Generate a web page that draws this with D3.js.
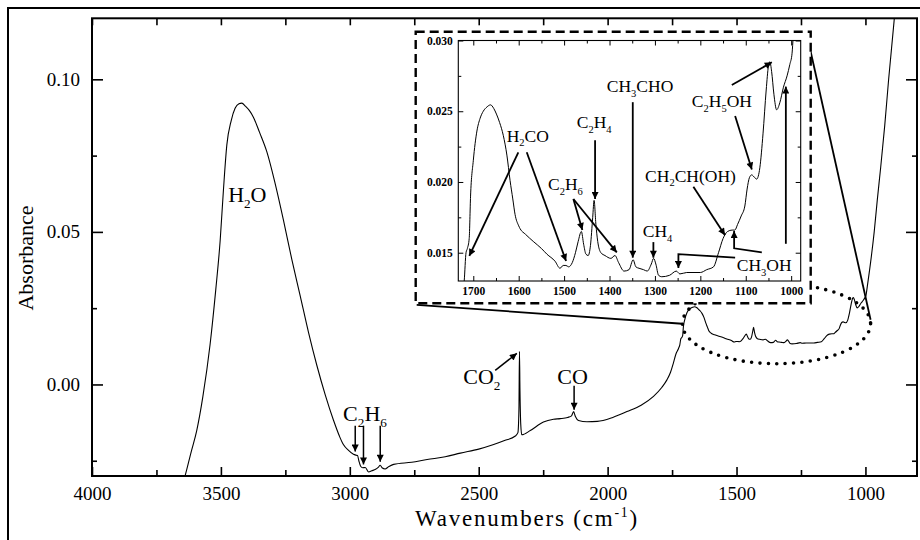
<!DOCTYPE html>
<html lang="en">
<head>
    <meta charset="UTF-8">
    <title>IR spectrum - absorbance vs wavenumber</title>
    <script src="https://cdn.jsdelivr.net/npm/d3@7"></script>
    <style>
        html, body {
            margin: 0;
            background: #fff;
        }
        svg {
            display: block;
            font-family: "Liberation Serif", "Times New Roman", serif;
        }
        .tick line { stroke: #000; }
    </style>
</head>
<body>
<div id="vis"></div>
<script>
    // ---- spectrum (wavenumber in cm-1, absorbance) ----
    var spectrumWn = [3660, 3639, 3615, 3594, 3570, 3542, 3520, 3503, 3490, 3477, 3460, 3445, 3430, 3419, 3405, 3390,
        3374, 3350, 3322, 3290, 3257, 3225, 3192, 3160, 3128, 3095, 3063, 3040, 3025, 3005, 2986, 2975, 2970, 2965,
        2958, 2950, 2940, 2927, 2915, 2900, 2890, 2882, 2875, 2863, 2850, 2830, 2760, 2700, 2630, 2571, 2500, 2442,
        2400, 2358, 2348, 2344, 2342, 2340, 2337, 2333, 2300, 2249, 2210, 2184, 2155, 2140, 2132, 2125, 2113, 2080,
        2040, 1980, 1925, 1870, 1822, 1790, 1770, 1756, 1745, 1735, 1725, 1720, 1716, 1713, 1709, 1706, 1700, 1692,
        1685, 1678, 1670, 1662, 1655, 1649, 1642, 1634, 1626, 1619, 1613, 1608, 1600, 1597, 1585, 1568, 1550, 1538,
        1520, 1509, 1502, 1496, 1490, 1482, 1475, 1469, 1462, 1457, 1452, 1447, 1442, 1437, 1434, 1430, 1426, 1419,
        1410, 1397, 1388, 1380, 1368, 1357, 1348, 1342, 1335, 1325, 1317, 1308, 1303, 1298, 1292, 1285, 1268, 1253,
        1245, 1230, 1200, 1186, 1171, 1160, 1150, 1140, 1130, 1124, 1118, 1110, 1102, 1097, 1092, 1087, 1080, 1076,
        1069, 1062, 1055, 1050, 1047, 1043, 1038, 1032, 1025, 1017, 1009, 1003, 998, 993, 980, 966, 954, 941, 925,
        910, 889, 880];
    var spectrumAbs = [-0.036, -0.030, -0.022, -0.0152, -0.004, 0.0131, 0.031, 0.047, 0.064, 0.0785, 0.0865, 0.0905,
        0.0920, 0.0922, 0.0912, 0.0898, 0.0876, 0.0826, 0.0763, 0.066, 0.0537, 0.041, 0.0289, 0.0170, 0.0063, -0.0035,
        -0.0118, -0.0170, -0.0197, -0.0216, -0.0229, -0.0232, -0.0233, -0.0250, -0.0268, -0.0273, -0.0272, -0.0287,
        -0.0283, -0.0278, -0.0272, -0.0265, -0.0273, -0.0277, -0.0270, -0.0262, -0.0255, -0.0246, -0.0237, -0.0225,
        -0.0212, -0.0197, -0.0184, -0.0169, -0.0158, -0.0080, 0.0108, -0.0020, -0.0130, -0.0165, -0.0151, -0.0123,
        -0.0114, -0.0112, -0.0108, -0.0103, -0.0089, -0.0105, -0.0118, -0.0122, -0.0121, -0.0108, -0.0089, -0.0068,
        -0.0039, -0.0010, 0.0015, 0.0040, 0.0070, 0.0100, 0.0118, 0.0130, 0.0150, 0.0153, 0.0160, 0.0190, 0.0215,
        0.0236, 0.0245, 0.0250, 0.0253, 0.02545, 0.0252, 0.0248, 0.0242, 0.0233, 0.0219, 0.0201, 0.0188, 0.0177,
        0.0169, 0.0167, 0.0163, 0.0158, 0.0153, 0.0149, 0.0144, 0.0139, 0.0141, 0.0141, 0.0140, 0.0143, 0.0150,
        0.0158, 0.0165, 0.0156, 0.0149, 0.0148, 0.0155, 0.0175, 0.0187, 0.0170, 0.0158, 0.0150, 0.0148, 0.0146,
        0.0148, 0.0143, 0.0137, 0.0138, 0.0145, 0.0140, 0.0139, 0.0138, 0.0137, 0.0142, 0.0146, 0.0142, 0.0134,
        0.0133, 0.0134, 0.0137, 0.0135, 0.0136, 0.0136, 0.0138, 0.0140, 0.0150, 0.0160, 0.0165, 0.0166, 0.0166,
        0.0170, 0.0176, 0.0183, 0.0195, 0.0203, 0.0205, 0.0203, 0.0202, 0.0210, 0.0234, 0.0265, 0.0282, 0.0285,
        0.0278, 0.0262, 0.0251, 0.0256, 0.0267, 0.0275, 0.0283, 0.0291, 0.0320, 0.040, 0.050, 0.0605, 0.071, 0.085,
        0.100, 0.119, 0.128];

    // ---- axis ticks ----
    var xMajorTicks = [4000, 3500, 3000, 2500, 2000, 1500, 1000];
    var xMinorTicks = [3750, 3250, 2750, 2250, 1750, 1250];
    var yMajorTicks = [0.00, 0.05, 0.10];
    var yMinorTicks = [-0.025, 0.025, 0.075];
    var insetXMajorTicks = [1700, 1600, 1500, 1400, 1300, 1200, 1100, 1000];
    var insetXMinorTicks = [1650, 1550, 1450, 1350, 1250, 1150, 1050];
    var insetYMajorTicks = [0.015, 0.020, 0.025, 0.030];
    var insetYMinorTicks = [0.0175, 0.0225, 0.0275];

    // ---- annotations on the main plot (data units) ----
    var mainLabelText = ["H_2O", "C_2H_6", "CO_2", "CO"];
    var mainLabelWn = [3472, 3026, 2560, 2195];
    var mainLabelAbs = [0.0598, -0.0120, 0.0002, 0.0000];
    var mainArrows = [
        [[2979, -0.0135], [2979, -0.0220]],
        [[2947, -0.0135], [2947, -0.0262]],
        [[2882, -0.0135], [2882, -0.0253]],
        [[2436, 0.0046], [2352, 0.0102]],
        [[2130, -0.0004], [2130, -0.0083]]
    ];

    // region that is magnified in the inset (dotted ellipse)
    var zoomCenter = [1345, 0.0199];
    var zoomHalfWn = 365;
    var zoomHalfAbs = 0.0131;

    // ---- annotations in the inset (data units) ----
    var insetLabelText = ["H_2CO", "C_2H_6", "C_2H_4", "CH_3CHO", "CH_4", "CH_2CH(OH)", "C_2H_5OH", "CH_3OH"];
    var insetLabelWn = [1626.4, 1535.4, 1472.2, 1406, 1326.7, 1321.7, 1218.8, 1119.7];
    var insetLabelAbs = [0.02286, 0.01946, 0.02378, 0.02637, 0.01613, 0.02003, 0.02527, 0.01368];
    var insetArrows = [
        [[1600.8, 0.0221], [1708.8, 0.01477]],
        [[1582.3, 0.0221], [1495.7, 0.01441]],
        [[1479.6, 0.0188], [1459.8, 0.01661]],
        [[1479.6, 0.0188], [1384.0, 0.01502]],
        [[1431.8, 0.02295], [1431.8, 0.0188]],
        [[1348.8, 0.02564], [1348.8, 0.01465]],
        [[1303.4, 0.01575], [1303.4, 0.01465]],
        [[1215.3, 0.01966], [1145.7, 0.01624]],
        [[1130.7, 0.02686], [1042.6, 0.02846]],
        [[1123.4, 0.02467], [1086.6, 0.02088]],
        [[1123.4, 0.01465], [1248.3, 0.0149], [1248.3, 0.01392]],
        [[1064.6, 0.01502], [1125.6, 0.01531], [1125.6, 0.01654]],
        [[1011.7, 0.01563], [1011.7, 0.02674]]
    ];

    var spectrum = spectrumWn.map(function(w, i) { return {wn: w, abs: spectrumAbs[i]}; });

    /*
     *  LAYOUT
     */
    var width = 920, height = 540;
    var plot = {left: 92, right: 917, top: 18.3, bottom: 476};
    var box = {left: 415.7, right: 810.7, top: 31.7, bottom: 303.3};      // dashed frame of the inset
    var inset = {left: 458.3, right: 800.7, top: 40.5, bottom: 281};     // inset plotting area

    var x = d3.scaleLinear().domain([4000, 800]).range([plot.left, plot.right]);
    var y = d3.scaleLinear().domain([-0.03, 0.12]).range([plot.bottom, plot.top]);
    var xi = d3.scaleLinear().domain([1733, 979]).range([inset.left, inset.right]);
    var yi = d3.scaleLinear().domain([0.013, 0.030]).range([inset.bottom, inset.top]);

    var svg = d3.select('#vis').append('svg')
        .attr('width', width)
        .attr('height', height);

    var defs = svg.append('defs');
    defs.append('marker')
        .attr('id', 'arrow')
        .attr('viewBox', '0 0 10 10')
        .attr('refX', 10).attr('refY', 5)
        .attr('markerWidth', 9).attr('markerHeight', 7)
        .attr('markerUnits', 'userSpaceOnUse')
        .attr('orient', 'auto')
      .append('path')
        .attr('d', 'M0,0L10,5L0,10z')
        .attr('fill', '#000');

    defs.append('clipPath').attr('id', 'clip-main')
      .append('rect')
        .attr('x', plot.left).attr('y', plot.top)
        .attr('width', plot.right - plot.left).attr('height', plot.bottom - plot.top);
    defs.append('clipPath').attr('id', 'clip-inset')
      .append('rect')
        .attr('x', inset.left).attr('y', inset.top)
        .attr('width', inset.right - inset.left).attr('height', inset.bottom - inset.top);

    // outer figure border (cut by the page edge)
    svg.append('rect')
        .attr('x', 8).attr('y', 8)
        .attr('width', 1000).attr('height', 1000)
        .attr('fill', 'none').attr('stroke', '#000').attr('stroke-width', 2);

    // writes "C_2H_6" / "cm^{-1}" as tspans with sub/superscripts
    function richText(t, str, size) {
        var parts = str.match(/[_^]\{[^}]*\}|[_^].|[^_^]+/g);
        var shift = 0;
        parts.forEach(function(p) {
            var kind = p[0] === '_' ? 'sub' : (p[0] === '^' ? 'sup' : 'n');
            var s = kind === 'n' ? p : p.slice(1).replace(/[{}]/g, '');
            var target = kind === 'sub' ? size * 0.28 : (kind === 'sup' ? -size * 0.4 : 0);
            t.append('tspan')
                .attr('dy', target - shift)
                .attr('font-size', kind === 'n' ? size : size * 0.6)
                .text(s);
            shift = target;
        });
    }

    function drawAxis(g, axis, fontSize, bold) {
        g.call(axis);
        g.select('.domain').remove();
        g.attr('font-family', null).attr('font-size', fontSize);
        if (bold) g.attr('font-weight', 'bold');
        g.selectAll('.tick text').attr('fill', '#000');
    }

    /*
     *  MAIN PLOT
     */
    var main = svg.append('g');

    var line = d3.line()
        .x(function(d) { return x(d.wn); })
        .y(function(d) { return y(d.abs); })
        .curve(d3.curveMonotoneX);

    main.append('path')
        .datum(spectrum)
        .attr('clip-path', 'url(#clip-main)')
        .attr('d', line)
        .attr('fill', 'none')
        .attr('stroke', '#000')
        .attr('stroke-width', 1.1);

    // axes, ticks pointing inward on all four sides
    drawAxis(main.append('g').attr('transform', 'translate(0,' + plot.bottom + ')'),
        d3.axisBottom(x).tickValues(xMajorTicks).tickSize(-9).tickPadding(11).tickFormat(d3.format('d')), 19);
    drawAxis(main.append('g').attr('transform', 'translate(0,' + plot.bottom + ')'),
        d3.axisBottom(x).tickValues(xMinorTicks).tickSize(-6).tickFormat(''), 19);
    drawAxis(main.append('g').attr('transform', 'translate(0,' + plot.top + ')'),
        d3.axisTop(x).tickValues(xMajorTicks.concat(xMinorTicks)).tickSize(-7).tickFormat(''), 19);
    drawAxis(main.append('g').attr('transform', 'translate(' + plot.left + ',0)'),
        d3.axisLeft(y).tickValues(yMajorTicks).tickSize(-11).tickPadding(12).tickFormat(d3.format('.2f')), 19);
    drawAxis(main.append('g').attr('transform', 'translate(' + plot.left + ',0)'),
        d3.axisLeft(y).tickValues(yMinorTicks).tickSize(-5).tickFormat(''), 19);
    drawAxis(main.append('g').attr('transform', 'translate(' + plot.right + ',0)'),
        d3.axisRight(y).tickValues(yMajorTicks).tickSize(-11).tickFormat(''), 19);
    drawAxis(main.append('g').attr('transform', 'translate(' + plot.right + ',0)'),
        d3.axisRight(y).tickValues(yMinorTicks).tickSize(-5).tickFormat(''), 19);
    main.selectAll('.tick line').attr('stroke-width', 1.6);

    main.append('rect')
        .attr('x', plot.left).attr('y', plot.top)
        .attr('width', plot.right - plot.left).attr('height', plot.bottom - plot.top)
        .attr('fill', 'none').attr('stroke', '#000').attr('stroke-width', 2);

    // axis titles
    var xTitle = main.append('text')
        .attr('x', 527).attr('y', 526)
        .attr('text-anchor', 'middle')
        .attr('letter-spacing', 1.8);
    richText(xTitle, 'Wavenumbers (cm^{-1})', 23);

    main.append('text')
        .attr('transform', 'translate(33,258) rotate(-90)')
        .attr('text-anchor', 'middle')
        .attr('font-size', 22)
        .text('Absorbance');

    // peak labels and arrows
    mainLabelText.forEach(function(s, i) {
        var t = main.append('text')
            .attr('x', x(mainLabelWn[i]))
            .attr('y', y(mainLabelAbs[i]));
        richText(t, s, 22);
    });

    var arrowLine = d3.line();
    main.selectAll('.main-arrow')
        .data(mainArrows)
        .enter().append('path')
        .attr('class', 'main-arrow')
        .attr('d', function(d) { return arrowLine(d.map(function(p) { return [x(p[0]), y(p[1])]; })); })
        .attr('fill', 'none')
        .attr('stroke', '#000')
        .attr('stroke-width', 1.5)
        .attr('marker-end', 'url(#arrow)');

    // dotted ellipse around the magnified region, and the two lines to the inset
    var cx = x(zoomCenter[0]), cy = y(zoomCenter[1]);
    var rx = Math.abs(x(zoomCenter[0] - zoomHalfWn) - cx);
    var ry = Math.abs(y(zoomCenter[1] + zoomHalfAbs) - cy);

    main.append('ellipse')
        .attr('cx', cx).attr('cy', cy)
        .attr('rx', rx).attr('ry', ry)
        .attr('fill', 'none')
        .attr('stroke', '#000')
        .attr('stroke-width', 3.6)
        .attr('stroke-linecap', 'round')
        .attr('stroke-dasharray', '0 8.4');

    main.append('line')
        .attr('x1', box.left + 1).attr('y1', box.bottom + 1.5)
        .attr('x2', cx - rx).attr('y2', cy)
        .attr('stroke', '#000').attr('stroke-width', 1.8);
    main.append('line')
        .attr('x1', box.right).attr('y1', box.top + 20)
        .attr('x2', cx + rx).attr('y2', cy - 4)
        .attr('stroke', '#000').attr('stroke-width', 1.8);

    /*
     *  INSET
     */
    var ins = svg.append('g');

    ins.append('rect')
        .attr('x', box.left).attr('y', box.top)
        .attr('width', box.right - box.left).attr('height', box.bottom - box.top)
        .attr('fill', '#fff')
        .attr('stroke', '#000')
        .attr('stroke-width', 2.4)
        .attr('stroke-dasharray', '9 5');

    var insetLine = d3.line()
        .x(function(d) { return xi(d.wn); })
        .y(function(d) { return yi(d.abs); })
        .curve(d3.curveMonotoneX);

    ins.append('path')
        .datum(spectrum.filter(function(d) { return d.wn <= 1745 && d.wn >= 975; }))
        .attr('clip-path', 'url(#clip-inset)')
        .attr('d', insetLine)
        .attr('fill', 'none')
        .attr('stroke', '#000')
        .attr('stroke-width', 1);

    drawAxis(ins.append('g').attr('transform', 'translate(0,' + inset.bottom + ')'),
        d3.axisBottom(xi).tickValues(insetXMajorTicks).tickSize(-5).tickPadding(6).tickFormat(d3.format('d')), 11.5, true);
    drawAxis(ins.append('g').attr('transform', 'translate(0,' + inset.bottom + ')'),
        d3.axisBottom(xi).tickValues(insetXMinorTicks).tickSize(-3).tickFormat(''), 11.5);
    drawAxis(ins.append('g').attr('transform', 'translate(0,' + inset.top + ')'),
        d3.axisTop(xi).tickValues(insetXMajorTicks).tickSize(-5).tickFormat(''), 11.5);
    drawAxis(ins.append('g').attr('transform', 'translate(0,' + inset.top + ')'),
        d3.axisTop(xi).tickValues(insetXMinorTicks).tickSize(-3).tickFormat(''), 11.5);
    drawAxis(ins.append('g').attr('transform', 'translate(' + inset.left + ',0)'),
        d3.axisLeft(yi).tickValues(insetYMajorTicks).tickSize(-5).tickPadding(5.5).tickFormat(d3.format('.3f')), 11.5, true);
    drawAxis(ins.append('g').attr('transform', 'translate(' + inset.left + ',0)'),
        d3.axisLeft(yi).tickValues(insetYMinorTicks).tickSize(-3).tickFormat(''), 11.5);
    drawAxis(ins.append('g').attr('transform', 'translate(' + inset.right + ',0)'),
        d3.axisRight(yi).tickValues(insetYMajorTicks).tickSize(-5).tickFormat(''), 11.5);
    drawAxis(ins.append('g').attr('transform', 'translate(' + inset.right + ',0)'),
        d3.axisRight(yi).tickValues(insetYMinorTicks).tickSize(-3).tickFormat(''), 11.5);

    ins.append('rect')
        .attr('x', inset.left).attr('y', inset.top)
        .attr('width', inset.right - inset.left).attr('height', inset.bottom - inset.top)
        .attr('fill', 'none').attr('stroke', '#000').attr('stroke-width', 1.1);

    insetLabelText.forEach(function(s, i) {
        var t = ins.append('text')
            .attr('x', xi(insetLabelWn[i]))
            .attr('y', yi(insetLabelAbs[i]));
        richText(t, s, 17.5);
    });

    ins.selectAll('.inset-arrow')
        .data(insetArrows)
        .enter().append('path')
        .attr('class', 'inset-arrow')
        .attr('d', function(d) { return arrowLine(d.map(function(p) { return [xi(p[0]), yi(p[1])]; })); })
        .attr('fill', 'none')
        .attr('stroke', '#000')
        .attr('stroke-width', 1.8)
        .attr('marker-end', 'url(#arrow)');
</script>
</body>
</html>
